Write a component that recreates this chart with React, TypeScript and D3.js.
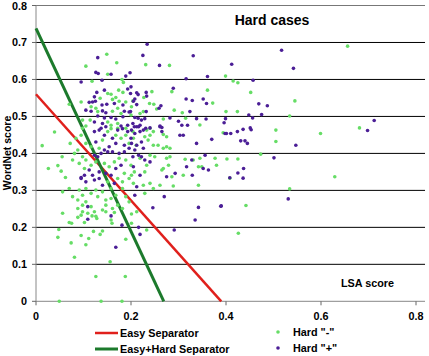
import React, { useRef, useEffect } from 'react'
import { scaleLinear, select, line } from 'd3'

// LSA score (x) vs WordNet score (y)
const hardNeg: [number, number][] = [
  [0.656, 0.690], [0.399, 0.609], [0.415, 0.596], [0.425, 0.591], [0.452, 0.565], [0.545, 0.542], [0.400, 0.513],
  [0.424, 0.513], [0.534, 0.501], [0.681, 0.469], [0.505, 0.463], [0.599, 0.454], [0.505, 0.432], [0.473, 0.398],
  [0.402, 0.385], [0.425, 0.385], [0.408, 0.333], [0.629, 0.337], [0.534, 0.304], [0.442, 0.259], [0.426, 0.184],
  [0.231, 0.640], [0.281, 0.638], [0.244, 0.567], [0.286, 0.567], [0.227, 0.551], [0.361, 0.571], [0.372, 0.536],
  [0.239, 0.535], [0.248, 0.533], [0.254, 0.520], [0.201, 0.526], [0.219, 0.508], [0.226, 0.513], [0.291, 0.517],
  [0.308, 0.510], [0.268, 0.493], [0.315, 0.495], [0.345, 0.477], [0.240, 0.468],
  [0.149, 0.668], [0.170, 0.645], [0.105, 0.636], [0.151, 0.614], [0.118, 0.595], [0.181, 0.600], [0.184, 0.592],
  [0.151, 0.562], [0.158, 0.560], [0.174, 0.571], [0.183, 0.565], [0.095, 0.539], [0.070, 0.533], [0.135, 0.549],
  [0.161, 0.546], [0.168, 0.551], [0.175, 0.541], [0.189, 0.539], [0.204, 0.542], [0.116, 0.526], [0.126, 0.522],
  [0.130, 0.513], [0.161, 0.514], [0.172, 0.522], [0.179, 0.508], [0.200, 0.504], [0.098, 0.490], [0.114, 0.490],
  [0.151, 0.485], [0.158, 0.476], [0.172, 0.481], [0.098, 0.468], [0.105, 0.474], [0.189, 0.468], [0.172, 0.468],
  [0.088, 0.409], [0.098, 0.391], [0.091, 0.373], [0.105, 0.382], [0.116, 0.368], [0.102, 0.359], [0.126, 0.377],
  [0.144, 0.373], [0.154, 0.364], [0.165, 0.377], [0.175, 0.387], [0.189, 0.382], [0.200, 0.368], [0.207, 0.350],
  [0.186, 0.346], [0.196, 0.332], [0.182, 0.323], [0.172, 0.332], [0.151, 0.323], [0.158, 0.305], [0.140, 0.296],
  [0.126, 0.301], [0.116, 0.292], [0.130, 0.283], [0.147, 0.274], [0.158, 0.278], [0.168, 0.287], [0.182, 0.305],
  [0.189, 0.283], [0.196, 0.269], [0.091, 0.301], [0.105, 0.305], [0.088, 0.274], [0.098, 0.260], [0.109, 0.238],
  [0.123, 0.242], [0.140, 0.247], [0.147, 0.260], [0.084, 0.441], [0.095, 0.449], [0.105, 0.427], [0.116, 0.418],
  [0.133, 0.414], [0.140, 0.436], [0.151, 0.459], [0.158, 0.467], [0.168, 0.449], [0.179, 0.441], [0.189, 0.449],
  [0.204, 0.459], [0.196, 0.427], [0.211, 0.422], [0.161, 0.251], [0.172, 0.260], [0.182, 0.251],
  [0.039, 0.458], [0.013, 0.421], [0.026, 0.359], [0.046, 0.367], [0.053, 0.352], [0.055, 0.391], [0.062, 0.335],
  [0.072, 0.427], [0.081, 0.400], [0.077, 0.382], [0.070, 0.305], [0.056, 0.296], [0.077, 0.283], [0.098, 0.287],
  [0.105, 0.269], [0.088, 0.251], [0.098, 0.242], [0.116, 0.256],
  [0.233, 0.463], [0.240, 0.449], [0.247, 0.459], [0.268, 0.451], [0.275, 0.445], [0.394, 0.456], [0.205, 0.441],
  [0.229, 0.445], [0.236, 0.436], [0.247, 0.422], [0.268, 0.414], [0.275, 0.418], [0.282, 0.414], [0.257, 0.422],
  [0.219, 0.387], [0.240, 0.395], [0.250, 0.391], [0.275, 0.387], [0.282, 0.391], [0.314, 0.384], [0.331, 0.382],
  [0.345, 0.387], [0.377, 0.387], [0.233, 0.368], [0.268, 0.359], [0.279, 0.368], [0.265, 0.355], [0.286, 0.337],
  [0.310, 0.341], [0.342, 0.364], [0.349, 0.364], [0.380, 0.368], [0.201, 0.341], [0.229, 0.350], [0.205, 0.319],
  [0.240, 0.319], [0.226, 0.314], [0.261, 0.314], [0.289, 0.312], [0.342, 0.314], [0.247, 0.305], [0.229, 0.292],
  [0.056, 0.238], [0.070, 0.213], [0.075, 0.211], [0.088, 0.227], [0.095, 0.233], [0.102, 0.213], [0.118, 0.231],
  [0.126, 0.230], [0.128, 0.224], [0.147, 0.242], [0.158, 0.220], [0.160, 0.211], [0.165, 0.240], [0.048, 0.194],
  [0.046, 0.173], [0.074, 0.158], [0.095, 0.178], [0.111, 0.170], [0.105, 0.153], [0.121, 0.189], [0.135, 0.181],
  [0.140, 0.190], [0.189, 0.168], [0.081, 0.119], [0.156, 0.107], [0.126, 0.067], [0.188, 0.067], [0.049, 0.0],
  [0.137, 0.0], [0.181, 0.0], [0.201, 0.236], [0.212, 0.242], [0.201, 0.211], [0.233, 0.193],
]

const hardPos: [number, number][] = [
  [0.517, 0.679], [0.412, 0.641], [0.542, 0.630], [0.457, 0.598], [0.469, 0.534], [0.487, 0.529], [0.448, 0.504],
  [0.475, 0.505], [0.456, 0.496], [0.399, 0.494], [0.712, 0.489], [0.698, 0.462], [0.401, 0.454], [0.410, 0.454],
  [0.424, 0.459], [0.436, 0.465], [0.451, 0.469], [0.453, 0.464], [0.431, 0.434], [0.440, 0.434], [0.445, 0.427],
  [0.547, 0.422], [0.501, 0.388], [0.437, 0.359], [0.425, 0.347], [0.436, 0.333], [0.531, 0.277], [0.390, 0.258],
  [0.234, 0.695], [0.225, 0.665], [0.331, 0.664], [0.260, 0.638], [0.198, 0.618], [0.316, 0.602], [0.361, 0.608],
  [0.200, 0.580], [0.212, 0.564], [0.215, 0.559], [0.232, 0.565], [0.289, 0.576], [0.208, 0.547], [0.205, 0.541],
  [0.233, 0.555], [0.316, 0.547], [0.329, 0.543], [0.352, 0.547], [0.359, 0.535], [0.212, 0.532], [0.263, 0.529],
  [0.259, 0.522], [0.199, 0.513], [0.232, 0.513], [0.324, 0.513], [0.208, 0.497], [0.215, 0.495], [0.222, 0.490],
  [0.229, 0.494], [0.282, 0.496], [0.300, 0.487], [0.338, 0.494], [0.358, 0.493], [0.396, 0.483], [0.307, 0.476],
  [0.319, 0.476], [0.265, 0.470], [0.261, 0.474], [0.212, 0.472], [0.219, 0.476], [0.231, 0.468],
  [0.130, 0.659], [0.126, 0.619], [0.131, 0.616], [0.158, 0.614], [0.189, 0.609], [0.095, 0.593], [0.139, 0.598],
  [0.128, 0.565], [0.144, 0.571], [0.193, 0.574], [0.199, 0.562], [0.112, 0.538], [0.119, 0.539], [0.125, 0.541],
  [0.123, 0.553], [0.139, 0.531], [0.149, 0.533], [0.165, 0.535], [0.183, 0.531], [0.105, 0.517], [0.116, 0.514],
  [0.140, 0.515], [0.147, 0.510], [0.186, 0.514], [0.196, 0.512], [0.130, 0.501], [0.144, 0.496], [0.158, 0.497],
  [0.168, 0.493], [0.183, 0.499], [0.123, 0.485], [0.140, 0.481], [0.179, 0.474], [0.193, 0.476], [0.204, 0.481],
  [0.137, 0.468], [0.147, 0.472],
  [0.123, 0.395], [0.130, 0.391], [0.137, 0.400], [0.144, 0.409], [0.151, 0.404], [0.161, 0.404], [0.175, 0.400],
  [0.186, 0.404], [0.196, 0.414], [0.204, 0.391], [0.112, 0.355], [0.102, 0.341], [0.119, 0.341], [0.133, 0.350],
  [0.147, 0.346], [0.158, 0.341], [0.168, 0.359], [0.179, 0.368], [0.095, 0.332], [0.105, 0.323], [0.123, 0.328],
  [0.133, 0.332], [0.140, 0.314], [0.165, 0.319], [0.123, 0.459], [0.133, 0.463], [0.144, 0.449], [0.161, 0.441],
  [0.172, 0.463], [0.182, 0.467], [0.193, 0.459], [0.200, 0.441], [0.207, 0.472], [0.168, 0.427], [0.154, 0.418],
  [0.186, 0.422], [0.126, 0.431], [0.109, 0.256],
  [0.201, 0.463], [0.208, 0.454], [0.219, 0.459], [0.216, 0.472], [0.226, 0.463], [0.240, 0.469], [0.261, 0.472],
  [0.265, 0.459], [0.303, 0.449], [0.310, 0.449], [0.338, 0.427], [0.370, 0.438], [0.398, 0.454], [0.201, 0.427],
  [0.212, 0.422], [0.208, 0.409], [0.222, 0.431], [0.226, 0.414], [0.216, 0.395], [0.205, 0.364], [0.222, 0.391],
  [0.229, 0.382], [0.240, 0.377], [0.275, 0.337], [0.293, 0.346], [0.317, 0.364], [0.328, 0.382], [0.356, 0.395],
  [0.363, 0.355], [0.352, 0.359], [0.219, 0.341], [0.212, 0.310], [0.208, 0.287], [0.270, 0.283], [0.246, 0.253],
  [0.342, 0.254], [0.389, 0.257], [0.408, 0.334], [0.329, 0.341],
  [0.109, 0.222], [0.158, 0.231], [0.181, 0.206], [0.168, 0.146], [0.216, 0.200], [0.219, 0.181], [0.291, 0.193],
  [0.335, 0.220], [0.095, 0.335],
]

// separator lines, given by their axis intercepts
const easySep: [number, number][] = [[0, 0.56], [0.39, 0]]
const easyHardSep: [number, number][] = [[0, 0.738], [0.269, 0]]

const xTicks = [0, 0.2, 0.4, 0.6, 0.8]
const yTicks = [0, 0.1, 0.2, 0.3, 0.4, 0.5, 0.6, 0.7, 0.8]
const xTickLabels = ['0', '0.2', '0.4', '0.6', '0.8']
const yTickLabels = ['0', '0.1', '0.2', '0.3', '0.4', '0.5', '0.6', '0.7', '0.8']

const GREEN = '#66dd66'
const PURPLE = '#4b1e96'
const RED = '#e0201c'
const DARK_GREEN = '#1c7a2c'
const FONT = '"Liberation Sans", Arial, sans-serif'

export default function App() {
  const canvas = useRef<SVGSVGElement>(null)

  const width = 429
  const height = 356

  useEffect(() => {
    document.body.style.margin = '0'
    const svg = select(canvas.current)
    svg.selectAll('*').remove()

    const x = scaleLinear().domain([0, 0.8]).range([36, 416])
    const y = scaleLinear().domain([0, 0.8]).range([301.3, 5.5])
    const xEnd = x(0.819)

    svg.append('rect').attr('width', width).attr('height', height).attr('fill', '#fff')

    // horizontal gridlines
    svg.append('g').selectAll('line').data(yTicks.slice(1)).join('line')
      .attr('x1', x(0)).attr('x2', xEnd)
      .attr('y1', d => y(d)).attr('y2', d => y(d))
      .attr('stroke', (d, i) => i === yTicks.length - 2 ? '#777' : '#000')
      .attr('stroke-width', 1)

    // axes
    svg.append('line').attr('x1', x(0)).attr('x2', x(0)).attr('y1', y(0.8)).attr('y2', y(0))
      .attr('stroke', '#888').attr('stroke-width', 1)
    svg.append('line').attr('x1', x(0)).attr('x2', xEnd).attr('y1', y(0)).attr('y2', y(0))
      .attr('stroke', '#888').attr('stroke-width', 1)
    svg.append('g').selectAll('line').data(xTicks).join('line')
      .attr('x1', d => x(d)).attr('x2', d => x(d))
      .attr('y1', y(0)).attr('y2', y(0) + 4)
      .attr('stroke', '#666')
    svg.append('g').selectAll('line').data(yTicks).join('line')
      .attr('x1', x(0) - 4).attr('x2', x(0))
      .attr('y1', d => y(d)).attr('y2', d => y(d))
      .attr('stroke', '#666')

    // tick labels
    svg.append('g').selectAll('text').data(xTicks).join('text')
      .attr('x', d => x(d)).attr('y', 320)
      .attr('text-anchor', 'middle')
      .attr('font-family', FONT).attr('font-size', 10.8).attr('font-weight', 'bold')
      .text((d, i) => xTickLabels[i])
    svg.append('g').selectAll('text').data(yTicks).join('text')
      .attr('x', 27).attr('y', d => y(d) + 4)
      .attr('text-anchor', 'end')
      .attr('font-family', FONT).attr('font-size', 10.8).attr('font-weight', 'bold')
      .text((d, i) => yTickLabels[i])

    // separators
    const sepLine = line<[number, number]>().x(d => x(d[0])).y(d => y(d[1]))
    svg.append('path').attr('d', sepLine(easySep)).attr('fill', 'none')
      .attr('stroke', RED).attr('stroke-width', 2.5)
    svg.append('path').attr('d', sepLine(easyHardSep)).attr('fill', 'none')
      .attr('stroke', DARK_GREEN).attr('stroke-width', 3)

    // hard cases
    svg.append('g').selectAll('circle').data(hardNeg).join('circle')
      .attr('cx', d => x(d[0])).attr('cy', d => y(d[1])).attr('r', 1.8)
      .attr('fill', GREEN)
    svg.append('g').selectAll('circle').data(hardPos).join('circle')
      .attr('cx', d => x(d[0])).attr('cy', d => y(d[1])).attr('r', 1.8)
      .attr('fill', PURPLE)

    // titles
    svg.append('text').attr('x', 272).attr('y', 25).attr('text-anchor', 'middle')
      .attr('font-family', FONT).attr('font-size', 14).attr('font-weight', 'bold')
      .text('Hard cases')
    svg.append('text').attr('x', 341).attr('y', 287)
      .attr('font-family', FONT).attr('font-size', 10.8).attr('font-weight', 'bold')
      .text('LSA score')
    svg.append('text').attr('transform', 'translate(10.5,153) rotate(-90)').attr('text-anchor', 'middle')
      .attr('font-family', FONT).attr('font-size', 10.5).attr('font-weight', 'bold')
      .text('WordNet score')

    // legend
    const legend = svg.append('g').attr('font-family', FONT).attr('font-size', 10.8).attr('font-weight', 'bold')
    legend.append('line').attr('x1', 95).attr('x2', 118).attr('y1', 333).attr('y2', 333)
      .attr('stroke', RED).attr('stroke-width', 2.5)
    legend.append('text').attr('x', 120).attr('y', 337).text('Easy Separator')
    legend.append('line').attr('x1', 95).attr('x2', 118).attr('y1', 349).attr('y2', 349)
      .attr('stroke', DARK_GREEN).attr('stroke-width', 3)
    legend.append('text').attr('x', 120).attr('y', 353).text('Easy+Hard Separator')
    legend.append('circle').attr('cx', 278).attr('cy', 332).attr('r', 1.8).attr('fill', GREEN)
    legend.append('text').attr('x', 293).attr('y', 336).text('Hard "-"')
    legend.append('circle').attr('cx', 278).attr('cy', 348).attr('r', 1.8).attr('fill', PURPLE)
    legend.append('text').attr('x', 293).attr('y', 352).text('Hard "+"')
  })

  return (
    <svg ref={canvas} width={width} height={height} style={{ display: 'block' }} />
  )
}
